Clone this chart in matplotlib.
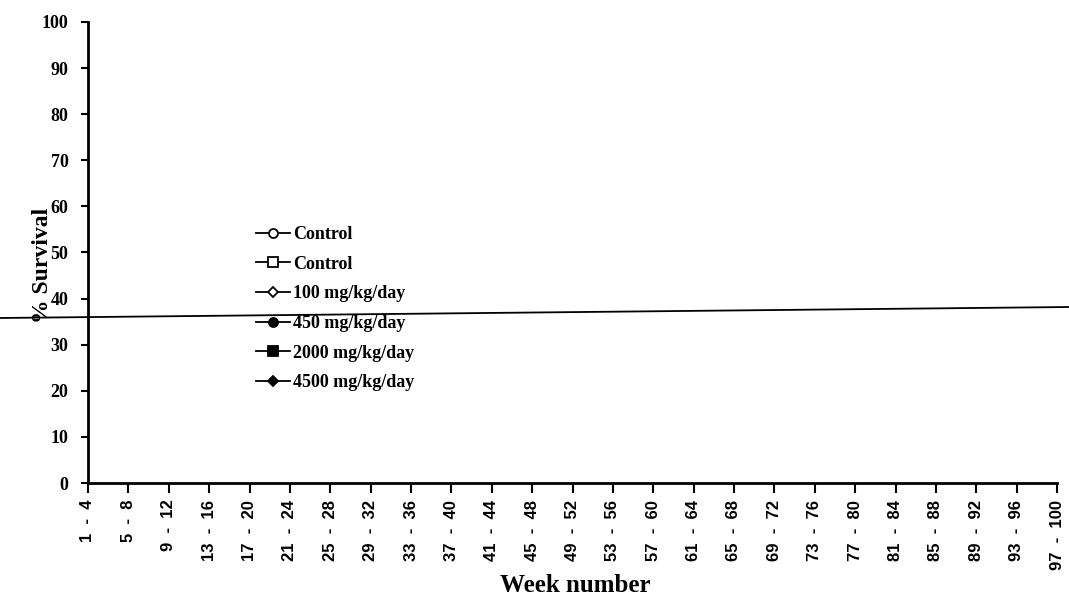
import numpy as np
import matplotlib
matplotlib.use("Agg")
import matplotlib.pyplot as plt
from matplotlib.lines import Line2D

# Week bins on the x axis
week_bins = ["%d  -  %d" % (a, a + 3) for a in range(1, 98, 4)]

# Survival series: no plotted points are visible in the scanned figure
series_labels = ["Control", "Control", "100 mg/kg/day", "450 mg/kg/day",
                 "2000 mg/kg/day", "4500 mg/kg/day"]
series_markers = ["o", "s", "D", "o", "s", "D"]
series_filled = [False, False, False, True, True, True]
series_values = [[], [], [], [], [], []]

y_ticks = list(range(0, 101, 10))

# stray scan line (figure pixel coords, left -> right)
scan_line_px = ([0, 1069], [318, 307])

W, H = 1069, 601
fig = plt.figure(figsize=(W / 100, H / 100), dpi=100, facecolor="white")
ax = fig.add_axes([88 / W, 1 - 483 / H, (1057 - 88) / W, (483 - 22) / H])

serif = ["Liberation Serif", "DejaVu Serif"]
sans = ["Liberation Sans", "DejaVu Sans"]

handles = []
for lab, mk, filled, vals in zip(series_labels, series_markers, series_filled, series_values):
    x = np.arange(len(vals))
    ln, = ax.plot(x, vals, color="black", lw=1.3, marker=mk,
                  markersize=6.5 if mk != "D" else 5,
                  markerfacecolor="black" if filled else "white",
                  markeredgecolor="black", markeredgewidth=1.3, label=lab)
    handles.append(ln)

ax.set_xlim(0, len(week_bins) - 1)
ax.set_ylim(0, 100)
ax.set_xticks(np.arange(len(week_bins)))
ax.set_xticklabels(week_bins, rotation=90, va="top", ha="center",
                   family=sans, fontweight="bold", fontsize=12)
ax.set_yticks(y_ticks)
ax.set_yticklabels([str(v) for v in y_ticks], family=serif,
                   fontweight="bold", fontsize=13)

for s in ["top", "right"]:
    ax.spines[s].set_visible(False)
for s in ["left", "bottom"]:
    ax.spines[s].set_linewidth(2)
ax.tick_params(axis="y", direction="out", length=5, width=1.5, pad=9)
ax.tick_params(axis="x", direction="out", length=7, width=1.5, pad=5)

leg = ax.legend(handles=handles, loc="upper left",
                bbox_to_anchor=(256 / W, 1 - 226 / H),
                bbox_transform=fig.transFigure, frameon=False,
                prop={"family": serif, "weight": "bold", "size": 13},
                handlelength=1.9, handletextpad=0.15, labelspacing=0.7,
                borderpad=0, borderaxespad=0)

fig.text(42 / W, 1 - 265 / H, "% Survival", rotation=90, ha="center",
         va="center", family=serif, fontweight="bold", fontsize=17)
fig.text(575 / W, 1 - 585 / H, "Week number", ha="center", va="center",
         family=serif, fontweight="bold", fontsize=18)

xs, ys = scan_line_px
fig.add_artist(Line2D([v / W for v in xs], [1 - v / H for v in ys],
                      transform=fig.transFigure, color="black", lw=1.3))

fig.savefig("out.png", dpi=100, facecolor="white")
